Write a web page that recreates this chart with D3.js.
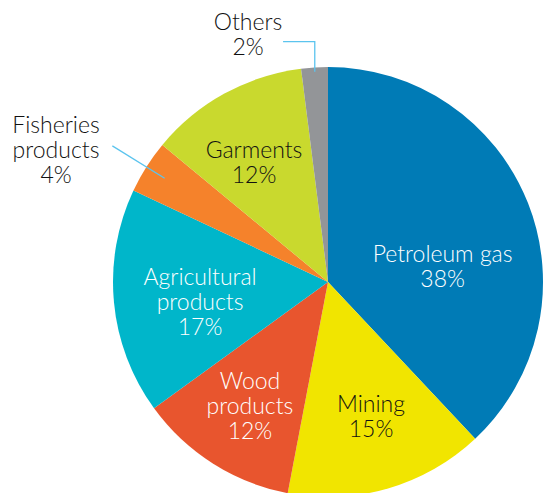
<!DOCTYPE html>
<html>
<head>
<meta charset="utf-8">
<script src="https://cdn.jsdelivr.net/npm/d3@7"></script>
<style>
  html, body { margin: 0; padding: 0; background: #fff; }
  svg { display: block; }
</style>
</head>
<body>
<div id="pie-chart"></div>
<script>
// slices, clockwise from 12 o'clock
const categories = ["Petroleum gas", "Mining", "Wood products", "Agricultural products", "Fisheries products", "Garments", "Others"];
const shares = [38, 15, 12, 17, 4, 12, 2];
const labelLines = [
    ["Petroleum gas", "38%"],
    ["Mining", "15%"],
    ["Wood", "products", "12%"],
    ["Agricultural", "products", "17%"],
    ["Fisheries", "products", "4%"],
    ["Garments", "12%"],
    ["Others", "2%"]
];

const colors = ["#007bb6", "#f1e500", "#e8552e", "#00b6ca", "#f5822b", "#c9d92e", "#939598"];
const textColors = ["#fff", "#111", "#fff", "#fff", "#111", "#111", "#111"];

const width = 544;
const height = 493;
const cx = 328, cy = 282;
const radius = 215;

// label anchor (first baseline) relative to centre, in units of radius
const labelPos = [
    [0.533, -0.093],
    [0.200, 0.605],
    [-0.363, 0.498],
    [-0.595, 0.014],
    [-1.265, -0.693],
    [-0.344, -0.577],
    [-0.372, -1.172]
];
const lineHeight = 25;

const data = categories.map((c, i) => ({ name: c, value: shares[i], i: i }));

const svg = d3.select("#pie-chart").append("svg")
    .attr("width", width)
    .attr("height", height)
    .append("g")
    .attr("transform", "translate(" + cx + "," + cy + ")");

const pie = d3.pie()
    .sort(null)
    .value(d => d.value);

const arc = d3.arc()
    .innerRadius(0)
    .outerRadius(radius);

const arcs = pie(data);

svg.selectAll("path.slice")
    .data(arcs)
    .enter().append("path")
    .attr("class", "slice")
    .attr("fill", d => colors[d.data.i])
    .attr("d", arc);

// leader lines for the two outside labels
const edge = (a, r) => [r * Math.sin(a), -r * Math.cos(a)];
const others = arcs[6];
const oMid = (others.startAngle + others.endAngle) / 2;
const oIn = edge(oMid, radius * 0.98);
svg.append("path")
    .attr("fill", "none")
    .attr("stroke", "#5bc4ee")
    .attr("stroke-width", 1.3)
    .attr("d", d3.line()([[-0.209 * radius, -1.118 * radius], [oIn[0], -1.118 * radius], oIn]));

const fish = arcs[4];
const fMid = (fish.startAngle + fish.endAngle) / 2;
const fIn = edge(fMid, radius * 0.9);
svg.append("path")
    .attr("fill", "none")
    .attr("stroke", "#5bc4ee")
    .attr("stroke-width", 1.3)
    .attr("d", d3.line()([[-1.003 * radius, -0.633 * radius], fIn]));

const labels = svg.selectAll("text.label")
    .data(arcs)
    .enter().append("text")
    .attr("class", "label")
    .attr("text-anchor", "middle")
    .style("font-family", "Lato, 'Open Sans', sans-serif")
    .style("font-size", "23px")
    .style("font-weight", 300)
    .attr("fill", d => textColors[d.data.i])
    .attr("transform", d => "translate(" + labelPos[d.data.i][0] * radius + "," + labelPos[d.data.i][1] * radius + ")");

labels.selectAll("tspan")
    .data(d => labelLines[d.data.i])
    .enter().append("tspan")
    .attr("x", 0)
    .attr("y", (d, j) => j * lineHeight)
    .text(d => d);
</script>
</body>
</html>
